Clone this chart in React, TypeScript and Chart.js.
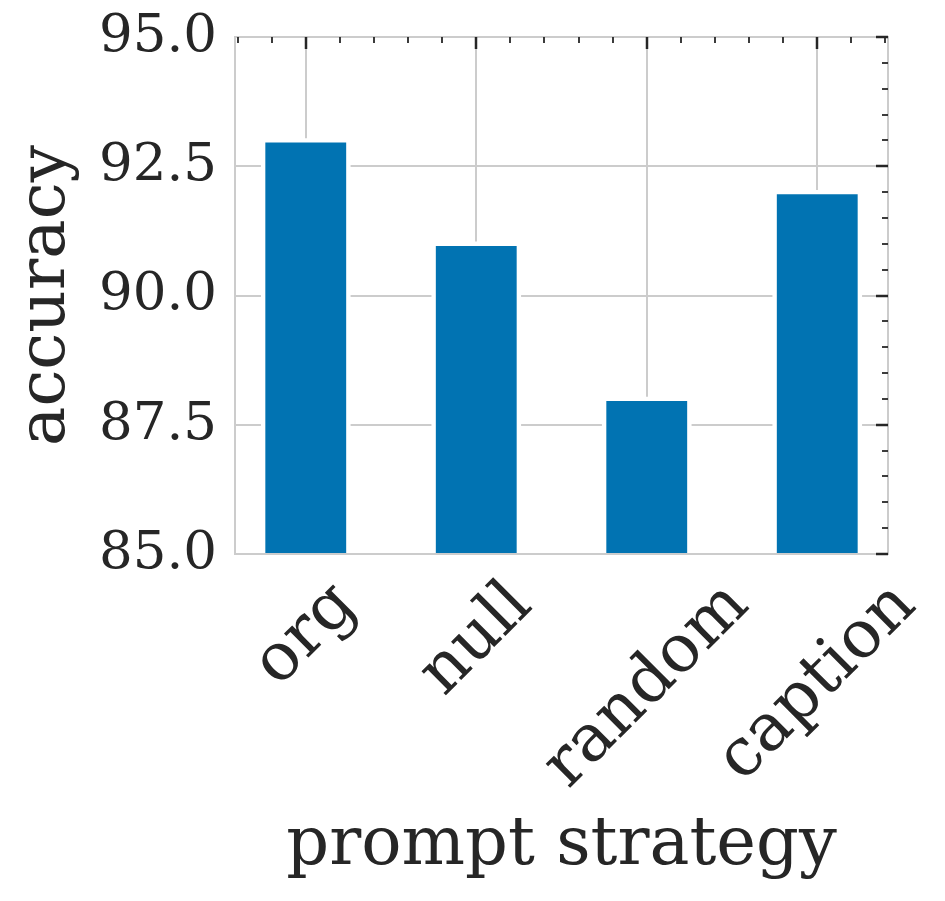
import React, { useEffect, useRef } from "react";
import { Chart, registerables } from "chart.js";

Chart.register(...registerables);

const categories = ["org", "null", "random", "caption"];
const accuracy = [93, 91, 88, 92];
const yMin = 85;
const yMax = 95;
const yStep = 2.5;
const yMinorStep = 0.5;
const xMinorStep = 0.2;
const xLabel = "prompt strategy";
const yLabel = "accuracy";

const TEXT = "#262626";
const GRID = "#cccccc";
const BAR = "#0173B2";
const FONT = "'DejaVu Serif', serif";

const decorPlugin = {
  id: "decor",
  beforeDatasetsDraw(chart: any) {
    const { ctx, chartArea: a, scales } = chart;
    const x = scales.x;
    const y = scales.y;
    ctx.save();
    ctx.strokeStyle = GRID;
    ctx.lineWidth = 2;
    categories.forEach((_, i) => {
      const px = Math.round(x.getPixelForValue(i));
      ctx.beginPath();
      ctx.moveTo(px, a.top);
      ctx.lineTo(px, a.bottom);
      ctx.stroke();
    });
    y.ticks.forEach((t: any) => {
      const py = Math.round(y.getPixelForValue(t.value));
      ctx.beginPath();
      ctx.moveTo(a.left, py);
      ctx.lineTo(a.right, py);
      ctx.stroke();
    });
    ctx.restore();
  },
  afterDatasetsDraw(chart: any) {
    const { ctx, chartArea: a, scales } = chart;
    const x = scales.x;
    const y = scales.y;
    ctx.save();
    // white bar edges (centered on bar outline, like matplotlib patches)
    ctx.beginPath();
    ctx.rect(a.left, a.top, a.right - a.left, a.bottom - a.top);
    ctx.clip();
    ctx.strokeStyle = "#ffffff";
    ctx.lineWidth = 4.4;
    chart.getDatasetMeta(0).data.forEach((bar: any) => {
      const p = bar.getProps(["x", "y", "base", "width"], true);
      const l = p.x - p.width / 2;
      const r = p.x + p.width / 2;
      ctx.beginPath();
      ctx.moveTo(l, a.bottom + 10);
      ctx.lineTo(l, p.y);
      ctx.lineTo(r, p.y);
      ctx.lineTo(r, a.bottom + 10);
      ctx.stroke();
    });
    ctx.restore();
    ctx.save();
    ctx.strokeStyle = GRID;
    ctx.lineWidth = 2;
    ctx.strokeRect(a.left, a.top, a.right - a.left, a.bottom - a.top);
    ctx.strokeStyle = TEXT;
    const nMinorX = Math.round(1 / xMinorStep);
    for (let k = Math.ceil(x.min / xMinorStep); k <= Math.floor(x.max / xMinorStep); k++) {
      const v = k * xMinorStep;
      const major = k % nMinorX === 0;
      const px = Math.round(x.getPixelForValue(v));
      ctx.lineWidth = major ? 2.5 : 1.8;
      ctx.beginPath();
      ctx.moveTo(px, a.top);
      ctx.lineTo(px, a.top + (major ? 12 : 6));
      ctx.stroke();
    }
    const nMinorY = Math.round(yStep / yMinorStep);
    for (let k = Math.ceil((y.min - yMin) / yMinorStep); k <= Math.floor((y.max - yMin) / yMinorStep); k++) {
      const v = yMin + k * yMinorStep;
      const major = k % nMinorY === 0;
      const py = Math.round(y.getPixelForValue(v));
      ctx.lineWidth = major ? 2.5 : 1.8;
      ctx.beginPath();
      ctx.moveTo(a.right, py);
      ctx.lineTo(a.right - (major ? 12 : 6), py);
      ctx.stroke();
    }
    ctx.restore();
  },
  afterDraw(chart: any) {
    const { ctx, chartArea: a, scales } = chart;
    const x = scales.x;
    ctx.save();
    ctx.fillStyle = TEXT;
    ctx.font = `66px ${FONT}`;
    const m0 = ctx.measureText("lp");
    const asc = m0.actualBoundingBoxAscent;
    const desc = m0.actualBoundingBoxDescent;
    const h = asc + desc;
    const top = a.bottom + 18;
    categories.forEach((c, i) => {
      const w = ctx.measureText(c).width;
      const side = (w + h) / Math.SQRT2;
      const px = x.getPixelForValue(i);
      ctx.save();
      ctx.translate(px, top + side / 2);
      ctx.rotate(-Math.PI / 4);
      ctx.textAlign = "center";
      ctx.textBaseline = "alphabetic";
      ctx.fillText(c, 0, (asc - desc) / 2);
      ctx.restore();
    });
    ctx.font = `67px ${FONT}`;
    ctx.textAlign = "center";
    ctx.textBaseline = "alphabetic";
    ctx.fillText(xLabel, (a.left + a.right) / 2, 864);
    ctx.font = `66px ${FONT}`;
    ctx.save();
    ctx.translate(64, (a.top + a.bottom) / 2);
    ctx.rotate(-Math.PI / 2);
    ctx.fillText(yLabel, 0, 0);
    ctx.restore();
    ctx.restore();
  },
};

export default function App() {
  const ref = useRef<HTMLCanvasElement | null>(null);
  useEffect(() => {
    if (!ref.current) return;
    const chart = new Chart(ref.current, {
      type: "bar",
      data: {
        datasets: [
          {
            data: categories.map((c, i) => ({ x: i, y: accuracy[i] })),
            backgroundColor: BAR,
            borderWidth: 0,
            barPercentage: 0.5,
            categoryPercentage: 1,
          },
        ],
      },
      options: {
        responsive: false,
        animation: false,
        events: [],
        layout: { padding: { left: 0, top: 37, right: 57, bottom: 347 } },
        plugins: { legend: { display: false }, tooltip: { enabled: false } },
        scales: {
          x: {
            type: "linear",
            offset: false,
            min: -0.415,
            max: 3.415,
            ticks: { display: false, stepSize: 1, includeBounds: false },
            grid: { display: false, drawTicks: false, offset: false },
            border: { display: false },
            afterFit(s: any) {
              s.height = 0;
              s.paddingLeft = 0;
              s.paddingRight = 0;
            },
          },
          y: {
            type: "linear",
            min: yMin,
            max: yMax,
            ticks: {
              stepSize: yStep,
              color: TEXT,
              padding: 18,
              font: { family: FONT, size: 53, lineHeight: 1 },
              callback: (v: any) => Number(v).toFixed(1),
            },
            grid: { display: false, drawTicks: false },
            border: { display: false },
            afterFit(s: any) {
              s.width = 235;
              s.paddingTop = 0;
              s.paddingBottom = 0;
            },
          },
        },
      },
      plugins: [decorPlugin],
    } as any);
    return () => chart.destroy();
  }, []);
  return (
    <div style={{ position: "absolute", left: 0, top: 0, width: 945, height: 901, background: "#fff" }}>
      <canvas ref={ref} width={945} height={901} style={{ display: "block" }} />
    </div>
  );
}
